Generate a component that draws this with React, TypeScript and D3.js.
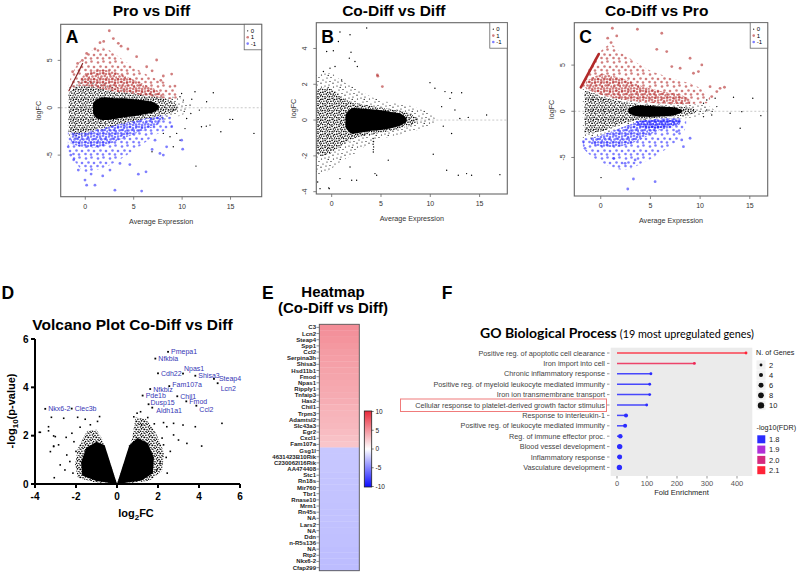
import React from "react";
import * as d3 from "d3";

type Env = [number, number, number][];
type Pt = [number, number];

// ---------- MA plot A: Pro vs Diff (x = average expression, lo/hi = logFC band) ----------
const proDiffHalo: Env = [[-1.8,-3.2,2.0],[-1,-3.3,2.7],[0,-3.0,3.0],[1,-2.7,2.8],[2,-2.4,2.6],[3,-2.1,2.3],[4,-1.9,2.0],[5,-1.6,1.8],[6,-1.4,1.6],[7,-1.3,1.5],[8,-1.3,1.3],[9,-1.0,1.2],[10,-0.8,0.9],[10.6,-0.3,0.3]];
const proDiffMid: Env = [[-1.7,-2.5,1.5],[-1,-2.8,2.2],[0,-2.6,2.3],[1,-2.3,2.1],[2,-2.1,1.9],[3,-1.9,1.7],[4,-1.6,1.6],[5,-1.4,1.5],[6,-1.2,1.3],[7,-1.0,1.2],[8,-0.8,1.0],[9,-0.5,0.7],[9.5,-0.2,0.3]];
const proDiffCore: Env = [[0.8,-0.6,0.5],[1.2,-1.1,0.9],[2,-1.3,1.1],[3,-1.2,1.0],[4,-1.0,1.0],[5,-0.9,0.9],[6,-0.7,0.8],[7,-0.5,0.6],[7.6,-0.1,0.2]];
const proDiffUp: Env = [[-1.7,1.8,2.6],[-1,2.2,4.3],[0,2.3,5.5],[1,2.1,6.2],[2,1.9,6.3],[3,1.7,5.7],[4,1.6,5.0],[5,1.5,4.3],[6,1.3,3.7],[7,1.2,3.2],[8,1.0,2.8],[9,0.9,2.3],[9.6,1.0,1.4]];
const proDiffUpDense: Env = [[-0.5,2.3,3.0],[0,2.3,3.6],[2,1.9,4.0],[4,1.6,3.4],[6,1.3,2.5],[7.5,1.1,1.8],[8,1.05,1.3]];
const proDiffDown: Env = [[-1.8,-4.6,-2.5],[-1,-5.8,-2.8],[0,-6.8,-2.6],[1,-6.6,-2.3],[2,-6.3,-2.1],[3,-5.8,-1.9],[4,-5.2,-1.6],[5,-4.5,-1.4],[6,-3.8,-1.2],[7,-3.0,-1.0],[8,-2.5,-0.8],[9,-2.0,-1.0]];
const proDiffDownDense: Env = [[-1.5,-3.8,-2.6],[0,-4.2,-2.6],[2,-4.0,-2.1],[4,-3.2,-1.6],[6,-2.4,-1.2],[7.5,-1.8,-0.9],[8,-1.2,-0.85]];
const proDiffUpPts: Pt[] = [[2.48,8.13],[1.52,6.87],[3.41,6.8],[0.14,5.74],[5.3,5.39],[-0.79,4.68],[-1.31,3.8],[8.92,3.56],[8.06,3.35],[9.26,2.29],[7.37,5.04],[6.34,4.33],[1.0,6.2],[2.9,7.3],[4.4,6.2],[-0.3,5.0],[6.9,3.9],[7.8,2.9],[3.7,6.5],[1.9,7.0]];
const proDiffDownPts: Pt[] = [[3.06,-8.7],[5.82,-8.8],[6.27,-6.76],[5.48,-7.01],[-0.03,-7.64],[1.0,-8.17],[0.14,-8.17],[-0.72,-6.58],[-1.76,-4.12],[10.06,-4.37],[9.95,-3.42],[7.71,-4.82],[8.06,-5.0],[8.4,-4.12],[7.2,-3.42],[8.92,-2.0],[3.58,-5.88],[2.55,-6.58],[1.8,-7.2],[4.6,-6.0],[-1.2,-5.5],[0.6,-7.0],[-1.5,-5.0],[6.9,-4.4]];
const proDiffOtherPts: Pt[] = [[11.33,1.69],[13.22,1.58],[12.53,0.63],[11.78,-0.25],[10.47,-1.13],[12.0,-2.0],[12.5,-1.94],[12.88,-1.83],[14.0,-2.54],[14.94,-1.23],[15.22,-1.23],[17.42,-2.71],[11.43,-6.16],[9.78,-3.42],[9.44,-2.71],[9.26,-0.25],[9.78,1.16],[9.95,1.51],[10.13,0.81],[10.82,0.28],[8.75,-3.06],[8.06,-2.71],[9.09,-4.12],[6.89,-4.65],[10.9,-0.6],[11.0,0.9],[10.3,-2.2]];
const proDiffStreak: Pt[] = [[-1.69,1.8],[-1.3,2.6],[-0.95,3.3],[-0.6,4.0],[-0.28,4.68]];

// ---------- MA plot B: Co-Diff vs Diff ----------
const coDiffHalo: Env = [[-1.7,-3.0,2.5],[-1,-3.0,2.6],[0,-2.7,2.6],[1,-2.3,2.2],[2,-2.0,1.9],[3,-1.6,1.6],[4,-1.3,1.3],[5,-1.1,1.1],[6,-0.9,1.0],[7,-0.8,0.9],[8,-0.7,0.8],[9,-0.5,0.6],[10,-0.3,0.4],[10.5,-0.1,0.1]];
const coDiffMid: Env = [[-1.6,-1.8,1.6],[-1,-2.0,1.8],[0,-1.8,1.7],[1,-1.4,1.3],[2,-1.1,1.0],[3,-0.9,0.9],[4,-0.8,0.8],[5,-0.7,0.7],[6,-0.6,0.6],[7,-0.45,0.5],[8,-0.3,0.35],[8.7,-0.1,0.1]];
const coDiffCore: Env = [[1.4,-0.4,0.3],[2,-0.75,0.65],[3,-0.7,0.65],[4,-0.6,0.6],[5,-0.55,0.55],[6,-0.45,0.45],[7,-0.3,0.35],[7.6,-0.1,0.1]];
const coDiffUpPts: Pt[] = [[4.63,2.52],[4.68,2.45],[5.14,1.87]];
const coDiffOtherPts: Pt[] = [[0.84,4.92],[1.86,4.77],[3.55,5.14],[0.68,4.39],[-0.51,3.83],[0.17,3.87],[1.96,3.79],[1.79,3.46],[2.36,3.27],[2.6,2.99],[-0.17,2.9],[0.34,2.99],[-0.84,2.71],[1.01,2.24],[9.97,2.09],[10.47,1.78],[11.49,1.59],[12.16,1.53],[13.18,1.53],[12.0,1.21],[11.15,0.75],[12.5,0.56],[15.71,0.28],[13.0,0.09],[13.85,0.15],[11.32,-0.34],[12.16,-0.75],[10.3,-1.91],[11.66,-2.8],[12.84,-3.08],[13.68,-2.99],[14.19,-3.08],[17.06,-3.05],[-1.18,-3.83],[-1.42,-3.46],[-0.24,-3.83],[0.84,-3.27],[2.03,-3.36],[1.86,-2.62],[2.53,-3.36],[4.39,-2.99],[4.56,-3.08],[5.74,-2.24],[4.22,-1.78],[4.2,-1.03],[4.22,-1.2],[4.2,-1.35],[4.25,-1.5],[4.22,-1.65],[-0.3,-3.79]];

// ---------- MA plot C: Co-Diff vs Pro ----------
const coProHalo: Env = [[-1.8,-3.0,2.7],[-1,-3.0,2.3],[0,-2.6,1.9],[1,-2.2,1.6],[2,-1.8,1.4],[3,-1.4,1.2],[4,-1.1,1.0],[5,-0.9,0.9],[6,-0.8,0.8],[7,-0.8,0.8],[8,-0.8,0.8],[9,-0.7,0.7],[10,-0.5,0.8],[11,-0.3,0.5],[11.5,-0.1,0.1]];
const coProMid: Env = [[-1.6,-2.4,2.3],[0,-2.2,1.6],[1,-1.8,1.3],[2,-1.4,1.1],[3,-1.1,0.9],[4,-0.9,0.8],[5,-0.8,0.7],[6,-0.7,0.6],[7,-0.6,0.55],[8,-0.5,0.5],[9,-0.4,0.4],[9.6,-0.1,0.1]];
const coProCore: Env = [[2.8,-0.2,0.3],[3.5,-0.5,0.6],[4.5,-0.6,0.6],[5.5,-0.6,0.55],[6.5,-0.55,0.5],[7.5,-0.4,0.4],[8.2,-0.1,0.1]];
const coProUp: Env = [[-1.8,2.5,3.3],[-1,2.2,5.0],[0,1.8,6.5],[1,1.5,7.2],[2,1.3,6.4],[3,1.1,5.7],[4,1.0,5.0],[5,0.9,4.4],[6,0.85,4.0],[7,0.8,3.6],[8,0.8,3.3],[9,0.8,3.0],[10,0.85,2.5],[11,0.9,1.6]];
const coProUpDense: Env = [[-1.5,2.4,3.2],[0,1.8,4.0],[2,1.3,3.6],[4,1.0,2.8],[6,0.85,2.2],[8,0.8,1.8],[9,0.8,1.3]];
const coProDown: Env = [[-1.8,-4.0,-2.9],[-1,-4.8,-2.9],[0,-5.5,-2.6],[1,-6.0,-2.2],[2,-6.3,-1.8],[3,-6.2,-1.4],[4,-5.7,-1.1],[5,-5.2,-0.9],[6,-4.5,-0.8],[7,-3.8,-0.8],[8,-2.9,-0.8],[8.6,-1.6,-0.9]];
const coProDownDense: Env = [[-1,-3.6,-2.9],[0,-3.8,-2.6],[2,-3.8,-1.8],[3.5,-3.3,-1.2],[5,-2.5,-0.9],[6,-2.0,-0.8],[7,-1.8,-0.8],[8,-1.4,-0.8]];
const coProDownCore: Env = [[3.5,-1.5,-1.1],[5,-1.8,-0.9],[6,-1.8,-0.85],[7,-1.6,-0.8],[8,-1.3,-0.8]];
const coProUpPts: Pt[] = [[1.17,8.99],[3.69,8.88],[6.14,8.45],[1.61,8.16],[0.7,7.91],[1.04,7.44],[5.64,6.71],[6.64,6.46],[8.99,5.74],[10.17,5.02],[9.83,4.3],[9.33,4.12],[11.0,2.67],[12.01,2.49],[12.45,2.6],[11.68,2.13],[11.17,1.59],[7.15,4.84],[7.99,4.66]];
const coProDownPts: Pt[] = [[2.72,-8.41],[3.29,-7.33],[5.47,-7.62],[1.28,-5.09],[2.45,-5.63],[3.46,-5.27],[-1.74,-3.29],[-1.58,-4.01],[8.15,-3.1],[8.32,-3.83],[8.99,-2.92],[7.65,-2.2]];
const coProOtherPts: Pt[] = [[0.03,-7.18],[14.03,-1.84],[13.02,-0.22],[13.36,1.52],[15.3,1.41],[16.11,-0.47],[14.19,-0.04],[11.68,0.51],[10.67,0.14],[11.17,-0.4],[10.34,-0.58],[10.34,0.87],[10.67,1.23],[11.51,1.41]];
const coProStreak: Pt[] = [[-2.0,2.6],[-1.5,3.6],[-1.0,4.6],[-0.6,5.4],[-0.2,6.2]];

// ---------- Volcano plot D ----------
const volcanoGenes = ["Pmepa1","Nfkbia","Cdh22","Npas1","Shisa3","Steap4","Lcn2","Fam107a","Nfkbiz","Pde1b","Chil1","Dusp15","Fmod","Aldh1a1","Ccl2","Nkx6-2","Clec3b"];
const volcanoLog2FC = [2.49,1.87,2.0,3.22,3.82,4.73,4.91,2.55,1.62,1.25,2.94,1.54,3.38,1.72,3.87,-3.5,-2.21];
const volcanoNegLogP = [5.47,5.19,4.58,4.57,4.48,4.35,4.17,4.05,3.93,3.66,3.63,3.3,3.42,3.16,3.24,3.11,3.12];
const volcanoOtherPts: Pt[] = [[-3.79,2.14],[-3.34,2.37],[-3.34,2.2],[-3.2,2.76],[-2.6,2.72],[-1.92,2.76],[-1.55,2.68],[-0.85,2.79],[-0.95,2.59],[-3.09,1.99],[-3.09,1.57],[-2.48,1.93],[5.12,2.51],[3.82,2.37],[3.22,2.44],[2.76,2.51],[2.43,2.37],[2.27,2.54],[1.82,2.49],[0.98,2.93],[0.82,2.78],[1.15,2.99],[-3.74,2.14],[-3.25,1.34],[-3.01,1.96],[-3.09,1.55],[-2.85,1.62],[-2.77,0.79],[-3.06,0.26],[-2.54,0.58],[-2.3,0.93],[-2.45,1.2],[2.76,2.03],[3.0,1.82],[3.41,1.68],[4.13,1.57],[2.27,1.62],[2.1,0.86],[2.4,1.1],[1.94,0.58],[-2.1,1.75],[-2.2,2.1],[1.5,2.75],[2.6,1.35],[-1.8,2.35],[-2.15,0.45],[-2.0,1.35],[2.45,0.45],[2.2,1.9],[-1.3,2.45],[1.2,2.45]];
// polygons (log2FC, -log10 p) outlining the dense bulk of genes
const volcanoLeftBulk: Pt[] = [[0,0],[-0.6,1.6],[-1.0,1.75],[-1.5,1.5],[-1.75,0.9],[-1.7,0.35],[-1.0,0.12]];
const volcanoLeftSpread: Pt[] = [[0,0],[-0.75,1.9],[-1.0,2.25],[-1.45,2.2],[-1.9,1.5],[-2.05,0.8],[-1.9,0.25],[-1.0,0.05]];
const volcanoRightBulk: Pt[] = [[0,0],[0.6,1.6],[1.0,1.9],[1.5,1.7],[1.8,1.1],[1.75,0.45],[1.2,0.15]];
const volcanoRightSpread: Pt[] = [[0,0],[0.75,1.9],[0.9,2.75],[1.4,2.7],[1.9,2.1],[2.3,1.3],[2.2,0.55],[1.6,0.15],[0.6,0.02]];

// ---------- Heatmap E ----------
const heatGenes = ["C3","Lcn2","Steap4","Spp1","Ccl2","Serpina3h","Shisa3","Hsd11b1","Fmod","Npas1","Ripply1","Tnfaip3","Has2","Chil1","Trpm3","Adamtsl2","Slc43a3","Egr2","Cxcl1","Fam107a","Gsg1l","4631423B10Rik","C230062I16Rik","AA474408","Stc1","Rn18s","Mir760","Tbr1","Rnase10","Mrm1","Rn45s","NA","Lars2","NA","Ddn","n-R5s136","NA","Rtp2","Nkx6-2","Cfap299"];
const heatLogFC = [5.3,5.1,5.0,4.8,4.6,4.5,4.4,4.3,4.2,4.1,4.0,3.9,3.8,3.6,3.5,3.4,3.3,3.1,2.9,2.7,-2.3,-2.3,-2.35,-2.35,-2.4,-2.4,-2.4,-2.45,-2.45,-2.5,-2.5,-2.5,-2.55,-2.55,-2.6,-2.6,-2.65,-2.65,-2.7,-2.7];
const heatTicks = [10, 5, 0, -5, -10];

// ---------- GO enrichment F ----------
const goTerms = ["Positive reg. of apoptotic cell clearance","Iron import into cell","Chronic inflammatory response","Positive reg. of myeloid leukocyte mediated immunity","Iron ion transmembrane transport","Cellular response to platelet-derived growth factor stimulus","Response to interleukin-1","Positive reg. of leukocyte mediated immunity","Reg. of immune effector proc.","Blood vessel development","Inflammatory response","Vasculature development"];
const goFold = [430, 258, 113, 109, 109, 99, 30, 27, 11, 9, 9, 8];
const goGenes = [2, 2, 2, 2, 2, 2, 4, 4, 5, 7, 6, 7];
const goFdr = [2.1, 2.06, 1.8, 1.8, 1.8, 1.8, 1.8, 1.8, 1.8, 1.8, 1.8, 1.8];
const goFoldTicks = [0, 100, 200, 300, 400];
const goSizeKeys = [2, 4, 6, 8, 10];
const goFdrKeys = [1.8, 1.9, 2.0, 2.1];
const highlightedTerm = "Cellular response to platelet-derived growth factor stimulus";

const SANS = "'Liberation Sans', Arial, sans-serif";

type MAConfig = {
  id: string; title: string; letter: string;
  box: [number, number, number, number];
  xDomain: [number, number]; yDomain: [number, number];
  yTicks: number[]; titleX: number; midFill: string;
  halo: Env; mid: Env; core: Env;
  up?: Env; upDense?: Env; down?: Env; downDense?: Env; downCore?: Env;
  upPts: Pt[]; downPts: Pt[]; otherPts: Pt[];
  streak?: Pt[]; streakColor?: string; streakWidth?: number;
};

const panels: MAConfig[] = [
  { id: "a", title: "Pro vs Diff", letter: "A", box: [60.7, 24.3, 261.7, 196.7], xDomain: [-2.54, 18.22], yDomain: [-9.39, 8.81], yTicks: [-5, 0, 5], titleX: 151.5, midFill: "url(#blkMid)",
    halo: proDiffHalo, mid: proDiffMid, core: proDiffCore, up: proDiffUp, upDense: proDiffUpDense, down: proDiffDown, downDense: proDiffDownDense,
    upPts: proDiffUpPts, downPts: proDiffDownPts, otherPts: proDiffOtherPts, streak: proDiffStreak, streakColor: "#8a2a2a", streakWidth: 1.2 },
  { id: "b", title: "Co-Diff vs Diff", letter: "B", box: [316.3, 22.7, 507.3, 194], xDomain: [-1.56, 17.81], yDomain: [-4.13, 5.44], yTicks: [-4, -2, 0, 2, 4], titleX: 393.8, midFill: "url(#blkDense)",
    halo: coDiffHalo, mid: coDiffMid, core: coDiffCore,
    upPts: coDiffUpPts, downPts: [], otherPts: coDiffOtherPts },
  { id: "c", title: "Co-Diff vs Pro", letter: "C", box: [574.3, 22.7, 767.7, 196], xDomain: [-2.66, 16.8], yDomain: [-9.17, 9.59], yTicks: [-5, 0, 5], titleX: 656.7, midFill: "url(#blkMid)",
    halo: coProHalo, mid: coProMid, core: coProCore, up: coProUp, upDense: coProUpDense, down: coProDown, downDense: coProDownDense, downCore: coProDownCore,
    upPts: coProUpPts, downPts: coProDownPts, otherPts: coProOtherPts, streak: coProStreak, streakColor: "#b22a2a", streakWidth: 2.6 },
];

const RED = "rgba(178,40,40,0.6)";
const BLUE = "rgba(40,40,255,0.6)";

// irregular dot tiles used as textures for dense point clouds
const tileSparse = [[1,2],[5,1],[9.5,3],[3,6],[7,5.5],[11,8],[2,10],[6,9.5],[9,11.2],[4.2,3.4]];
const tileMid = [[0.8,1.2],[3.1,0.5],[5.6,1.6],[8.2,0.9],[1.9,3.3],[4.4,3.0],[7.0,3.6],[9.3,2.8],[0.6,5.4],[3.0,5.8],[5.5,4.9],[8.1,5.6],[2.0,7.7],[4.6,7.2],[6.9,7.9],[9.4,7.1],[0.9,9.3],[3.6,9.5],[5.9,9.2],[8.4,9.6]];
const tileColorSparse = [[2,2.5],[7.5,1.5],[4.5,6.5],[10,7],[1.5,10],[7,10.5]];
const tileColorDense = [[1,1.5],[4,0.8],[7,2],[2.5,4.5],[5.8,4],[8.5,5.5],[1,7.5],[4.2,7.2],[7.2,8]];

function Patterns() {
  const dots = (id: string, size: number, pts: number[][], r: number, fill: string) => (
    <pattern id={id} width={size} height={size} patternUnits="userSpaceOnUse" key={id}>
      {pts.map((p, i) => <circle key={i} cx={p[0]} cy={p[1]} r={r} fill={fill} />)}
    </pattern>
  );
  return (
    <defs>
      {dots("blkSparse", 12, tileSparse, 0.6, "#000")}
      {dots("blkMid", 10, tileMid, 0.7, "#000")}
      {dots("blkDense", 7, tileMid, 0.75, "#000")}
      {dots("redSparse", 12, tileColorSparse, 1.3, RED)}
      {dots("redDense", 9, tileColorDense, 1.3, RED)}
      {dots("blueSparse", 12, tileColorSparse, 1.3, BLUE)}
      {dots("blueDense", 9, tileColorDense, 1.3, BLUE)}
      {dots("blueSolid", 6, tileColorDense, 1.3, "rgba(30,30,255,0.75)")}
      {dots("vSpread", 8, tileMid, 0.8, "#000")}
    </defs>
  );
}

function MAPanel({ cfg }: { cfg: MAConfig }) {
  const [x0, y0, x1, y1] = cfg.box;
  const x = d3.scaleLinear().domain(cfg.xDomain).range([x0, x1]);
  const y = d3.scaleLinear().domain(cfg.yDomain).range([y1, y0]);
  const area = d3.area<[number, number, number]>()
    .x((d) => x(d[0])).y0((d) => y(d[1])).y1((d) => y(d[2]))
    .curve(d3.curveCatmullRom.alpha(0.5));
  const line = d3.line<Pt>().x((d) => x(d[0])).y((d) => y(d[1]));
  const clip = `clip-${cfg.id}`;
  const xTicks = [0, 5, 10, 15];
  const legX = x1 - 17.5;
  return (
    <g>
      <clipPath id={clip}><rect x={x0} y={y0} width={x1 - x0} height={y1 - y0} /></clipPath>
      <text x={cfg.titleX} y={15.5} textAnchor="middle" fontSize={15.5} fontWeight="bold" fontFamily={SANS}>{cfg.title}</text>
      <g clipPath={`url(#${clip})`}>
        <line x1={x0} x2={x1} y1={y(0)} y2={y(0)} stroke="#bbb" strokeWidth={0.8} strokeDasharray="2,2" />
        <path d={area(cfg.halo) || ""} fill="url(#blkSparse)" />
        <path d={area(cfg.mid) || ""} fill={cfg.midFill} />
        <path d={area(cfg.core) || ""} fill="#000" />
        {cfg.otherPts.map((p, i) => <circle key={"o" + i} cx={x(p[0])} cy={y(p[1])} r={0.7} fill="#000" />)}
        {cfg.up && <path d={area(cfg.up) || ""} fill="url(#redSparse)" />}
        {cfg.upDense && <path d={area(cfg.upDense) || ""} fill="url(#redDense)" />}
        {cfg.down && <path d={area(cfg.down) || ""} fill="url(#blueSparse)" />}
        {cfg.downDense && <path d={area(cfg.downDense) || ""} fill="url(#blueDense)" />}
        {cfg.downCore && <path d={area(cfg.downCore) || ""} fill="url(#blueSolid)" />}
        {cfg.streak && <path d={line(cfg.streak) || ""} fill="none" stroke={cfg.streakColor} strokeWidth={cfg.streakWidth} strokeLinecap="round" />}
        {cfg.upPts.map((p, i) => <circle key={"u" + i} cx={x(p[0])} cy={y(p[1])} r={1.4} fill={RED} />)}
        {cfg.downPts.map((p, i) => <circle key={"d" + i} cx={x(p[0])} cy={y(p[1])} r={1.4} fill={BLUE} />)}
      </g>
      <rect x={x0} y={y0} width={x1 - x0} height={y1 - y0} fill="none" stroke="#666" strokeWidth={1.1} />
      {/* legend */}
      <rect x={legX} y={y0} width={x1 - legX} height={25.5} fill="#fff" stroke="#666" strokeWidth={0.8} />
      {[["0", "#000", 0.6], ["1", RED, 1.3], ["-1", BLUE, 1.3]].map((d, i) => (
        <g key={i}>
          <circle cx={legX + 3.5} cy={y0 + 6.5 + i * 6.4} r={d[2] as number} fill={d[1] as string} />
          <text x={legX + 6.5} y={y0 + 8.6 + i * 6.4} fontSize={6} fontFamily={SANS}>{d[0]}</text>
        </g>
      ))}
      <text x={x0 + 5} y={42.5} fontSize={17.5} fontWeight="bold" fontFamily={SANS}>{cfg.letter}</text>
      {/* axes */}
      {xTicks.map((t) => (
        <g key={t}>
          <line x1={x(t)} x2={x(t)} y1={y1} y2={y1 + 3} stroke="#666" strokeWidth={0.8} />
          <text x={x(t)} y={y1 + 12} textAnchor="middle" fontSize={7} fill="#333" fontFamily={SANS}>{t}</text>
        </g>
      ))}
      {cfg.yTicks.map((t) => (
        <g key={t}>
          <line x1={x0 - 3} x2={x0} y1={y(t)} y2={y(t)} stroke="#666" strokeWidth={0.8} />
          <text transform={`translate(${x0 - 9},${y(t)}) rotate(-90)`} textAnchor="middle" fontSize={7} fill="#333" fontFamily={SANS}>{t}</text>
        </g>
      ))}
      <text x={(x0 + x1) / 2} y={y1 + 27} textAnchor="middle" fontSize={7.2} fill="#333" fontFamily={SANS}>Average Expression</text>
      <text transform={`translate(${x0 - 20},${(y0 + y1) / 2}) rotate(-90)`} textAnchor="middle" fontSize={7.2} fill="#333" fontFamily={SANS}>logFC</text>
    </g>
  );
}

const labelOffsets: Record<string, [number, number]> = {
  Npas1: [1, -3], Steap4: [5, 2.5], Lcn2: [3, 7.5], Fam107a: [3, 1], Dusp15: [2, 0.5], Aldh1a1: [4, 5], Ccl2: [3, 6.5], Fmod: [3, 3], Pde1b: [3, 2],
};

function Volcano() {
  const x = d3.scaleLinear().domain([-4, 6]).range([35, 240]);
  const y = d3.scaleLinear().domain([0, 6]).range([484, 339]);
  const poly = (pts: Pt[]) => d3.line<Pt>().x((d) => x(d[0])).y((d) => y(d[1])).curve(d3.curveLinearClosed)(pts) || "";
  return (
    <g fontFamily={SANS}>
      <text x={1.5} y={299.3} fontSize={17.5} fontWeight="bold">D</text>
      <text x={132.5} y={330} textAnchor="middle" fontSize={15.5} fontWeight="bold">Volcano Plot Co-Diff vs Diff</text>
      <path d={poly(volcanoLeftSpread)} fill="url(#vSpread)" />
      <path d={poly(volcanoRightSpread)} fill="url(#vSpread)" />
      <path d={poly(volcanoLeftBulk)} fill="#000" />
      <path d={poly(volcanoRightBulk)} fill="#000" />
      {volcanoOtherPts.map((p, i) => <rect key={i} x={x(p[0]) - 0.8} y={y(p[1]) - 0.8} width={1.6} height={1.6} fill="#000" />)}
      {volcanoGenes.map((g, i) => {
        const off = labelOffsets[g] || [3, 2.5];
        return (
          <g key={g + i}>
            <rect x={x(volcanoLog2FC[i]) - 0.9} y={y(volcanoNegLogP[i]) - 0.9} width={1.8} height={1.8} fill="#000" />
            <text x={x(volcanoLog2FC[i]) + off[0]} y={y(volcanoNegLogP[i]) + off[1]} fontSize={7} fill="#3535b5">{g}</text>
          </g>
        );
      })}
      <line x1={35} x2={35} y1={339} y2={485} stroke="#000" strokeWidth={2} />
      <line x1={34} x2={240} y1={484} y2={484} stroke="#000" strokeWidth={2} />
      {[0, 2, 4, 6].map((t) => (
        <g key={"y" + t}>
          <line x1={31} x2={35} y1={y(t)} y2={y(t)} stroke="#000" strokeWidth={2} />
          <text x={28.5} y={y(t) + 3.6} textAnchor="end" fontSize={10} fontWeight="bold">{t}</text>
        </g>
      ))}
      {[-4, -2, 0, 2, 4, 6].map((t) => (
        <g key={"x" + t}>
          <line x1={x(t)} x2={x(t)} y1={484} y2={488} stroke="#000" strokeWidth={2} />
          <text x={x(t)} y={500} textAnchor="middle" fontSize={10} fontWeight="bold">{t}</text>
        </g>
      ))}
      <text x={136} y={517} textAnchor="middle" fontSize={11} fontWeight="bold">log<tspan fontSize={8} dy={3}>2</tspan><tspan dy={-3}>FC</tspan></text>
      <text transform="translate(15,411) rotate(-90)" textAnchor="middle" fontSize={11} fontWeight="bold">-log<tspan fontSize={8} dy={3}>10</tspan><tspan dy={-3}>(p-value)</tspan></text>
    </g>
  );
}

function Heatmap() {
  const color = d3.scaleLinear<string>().domain([-10, 0, 10]).range(["#0b0bff", "#ffffff", "#e8283a"]);
  const rows = d3.scaleBand<number>().domain(d3.range(heatGenes.length)).range([324.3, 570.7]);
  const cx0 = 319.3, cx1 = 359.3;
  const cb = d3.scaleLinear().domain([10, -10]).range([411.5, 486.5]);
  const stops = d3.range(-10, 10.01, 2.5);
  return (
    <g fontFamily={SANS}>
      <text x={262} y={299.3} fontSize={17.5} fontWeight="bold">E</text>
      <text x={333} y={296.5} textAnchor="middle" fontSize={15} fontWeight="bold">Heatmap</text>
      <text x={333} y={313} textAnchor="middle" fontSize={15} fontWeight="bold">(Co-Diff vs Diff)</text>
      {heatGenes.map((g, i) => (
        <g key={i}>
          <rect x={cx0} y={rows(i)!} width={cx1 - cx0} height={rows.bandwidth() + 0.3} fill={color(heatLogFC[i])} />
          <line x1={316.5} x2={cx0} y1={rows(i)! + rows.bandwidth() / 2} y2={rows(i)! + rows.bandwidth() / 2} stroke="#444" strokeWidth={0.6} />
          <text x={316} y={rows(i)! + rows.bandwidth() / 2 + 2} textAnchor="end" fontSize={6} fontWeight="bold" fill="#222">{g}</text>
        </g>
      ))}
      <rect x={cx0} y={324.3} width={cx1 - cx0} height={570.7 - 324.3} fill="none" stroke="#555" strokeWidth={0.9} />
      <linearGradient id="cbGrad" x1="0" x2="0" y1="0" y2="1">
        {stops.slice().reverse().map((v, i) => (
          <stop key={i} offset={(10 - v) / 20} stopColor={color(v)} />
        ))}
      </linearGradient>
      <rect x={364.3} y={411} width={7.4} height={76} fill="url(#cbGrad)" stroke="#222" strokeWidth={0.8} />
      {heatTicks.map((t) => (
        <g key={t}>
          <line x1={371.7} x2={373.7} y1={cb(t)} y2={cb(t)} stroke="#222" strokeWidth={0.6} />
          <text x={375.5} y={cb(t) + 2.3} fontSize={6.5} fill="#222">{t}</text>
        </g>
      ))}
    </g>
  );
}

function GOPlot() {
  const x = d3.scaleLinear().domain([-21, 451]).range([610.7, 752.3]);
  const y = d3.scalePoint<string>().domain(goTerms).range([353, 467.4]);
  const fdrColor = d3.scaleLinear<string>().domain([1.8, 1.9, 2.0, 2.1]).range(["#2b2bff", "#b02fd8", "#d52a7f", "#ff2438"]);
  const size = d3.scaleSqrt().domain([0, 10]).range([0, 3.2]);
  const hl = goTerms.indexOf(highlightedTerm);
  return (
    <g fontFamily={SANS}>
      <text x={441.7} y={299.3} fontSize={17.5} fontWeight="bold">F</text>
      <text x={480} y={338.3} fontFamily="Lato, 'Noto Sans', sans-serif">
        <tspan fontSize={14} fontWeight="bold">GO Biological Process</tspan>
        <tspan fontSize={10.8} dx={3}>(19 most upregulated genes)</tspan>
      </text>
      <rect x={610.7} y={347.7} width={752.3 - 610.7} height={476 - 347.7} fill="#ebebeb" />
      {goTerms.map((t, i) => (
        <g key={t}>
          <text x={605} y={y(t)! + 2.5} textAnchor="end" fontSize={7.3} fill="#444">{t}</text>
          <line x1={607} x2={609.5} y1={y(t)!} y2={y(t)!} stroke="#555" strokeWidth={0.6} />
          <line x1={x(0)} x2={x(goFold[i])} y1={y(t)!} y2={y(t)!} stroke={fdrColor(goFdr[i])} strokeWidth={1.5} opacity={0.85} />
          <circle cx={x(goFold[i])} cy={y(t)!} r={size(goGenes[i])} fill={fdrColor(goFdr[i])} />
        </g>
      ))}
      {hl >= 0 && <rect x={400.5} y={y(goTerms[hl])! - 6} width={206} height={12.5} fill="none" stroke="#f07b7b" strokeWidth={1} />}
      {goFoldTicks.map((t) => (
        <g key={t}>
          <line x1={x(t)} x2={x(t)} y1={476} y2={478.5} stroke="#555" strokeWidth={0.6} />
          <text x={x(t)} y={486} textAnchor="middle" fontSize={7.5} fill="#555">{t}</text>
        </g>
      ))}
      <text x={681.5} y={495} textAnchor="middle" fontSize={7.5} fill="#222">Fold Enrichment</text>
      <text x={756} y={354.5} fontSize={7.2} fill="#222">N. of Genes</text>
      {goSizeKeys.map((k, i) => (
        <g key={k}>
          <rect x={756.5} y={360.3 + i * 10.1} width={9} height={9.4} fill="#f2f2f2" />
          <circle cx={761} cy={365 + i * 10.1} r={size(k)} fill="#111" />
          <text x={769} y={367.6 + i * 10.1} fontSize={7.5} fill="#222">{k}</text>
        </g>
      ))}
      <text x={756.5} y={429.5} fontSize={7.2} fill="#222">-log10(FDR)</text>
      {goFdrKeys.map((k, i) => (
        <g key={k}>
          <rect x={757.3} y={435.3 + i * 10.3} width={8} height={8} fill={fdrColor(k)} />
          <text x={769} y={442 + i * 10.3} fontSize={7.5} fill="#222">{k.toFixed(1)}</text>
        </g>
      ))}
    </g>
  );
}

export default function App() {
  return (
    <svg width={798} height={573} viewBox="0 0 798 573" style={{ position: "absolute", left: 0, top: 0, background: "#fff" }}>
      <Patterns />
      {panels.map((p) => <MAPanel key={p.id} cfg={p} />)}
      <Volcano />
      <Heatmap />
      <GOPlot />
    </svg>
  );
}
